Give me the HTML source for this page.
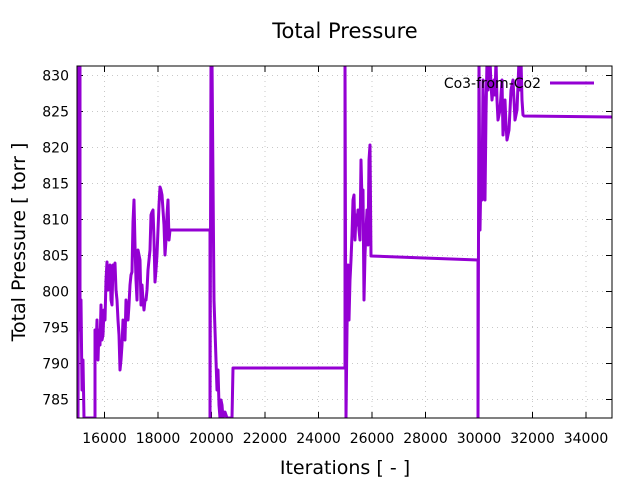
<!DOCTYPE html>
<html><head><meta charset="utf-8"><style>
html,body{margin:0;padding:0;background:#fff;}
svg text{font-family:"DejaVu Sans","Liberation Sans",sans-serif;fill:#000;}
</style></head><body>
<svg width="640" height="480" viewBox="0 0 640 480" xmlns="http://www.w3.org/2000/svg">
<rect width="640" height="480" fill="#fff"/>
<text x="345" y="38" font-size="21" text-anchor="middle">Total Pressure</text>
<g stroke="#c8c8c8" stroke-width="1" stroke-dasharray="1,4">
<line x1="77" y1="75.5" x2="612" y2="75.5"/>
<line x1="77" y1="111.5" x2="612" y2="111.5"/>
<line x1="77" y1="147.5" x2="612" y2="147.5"/>
<line x1="77" y1="183.5" x2="612" y2="183.5"/>
<line x1="77" y1="219.5" x2="612" y2="219.5"/>
<line x1="77" y1="255.5" x2="612" y2="255.5"/>
<line x1="77" y1="291.5" x2="612" y2="291.5"/>
<line x1="77" y1="327.5" x2="612" y2="327.5"/>
<line x1="77" y1="363.5" x2="612" y2="363.5"/>
<line x1="77" y1="399.5" x2="612" y2="399.5"/>
<line x1="104.5" y1="66" x2="104.5" y2="418"/>
<line x1="158" y1="66" x2="158" y2="418"/>
<line x1="211.5" y1="66" x2="211.5" y2="418"/>
<line x1="265" y1="66" x2="265" y2="418"/>
<line x1="318.5" y1="66" x2="318.5" y2="418"/>
<line x1="372" y1="66" x2="372" y2="418"/>
<line x1="425.5" y1="66" x2="425.5" y2="418"/>
<line x1="479" y1="66" x2="479" y2="418"/>
<line x1="532.5" y1="66" x2="532.5" y2="418"/>
<line x1="586" y1="66" x2="586" y2="418"/>
</g>
<g stroke="#000" stroke-width="1">
<line x1="77" y1="75.5" x2="83" y2="75.5"/><line x1="612" y1="75.5" x2="606" y2="75.5"/>
<line x1="77" y1="111.5" x2="83" y2="111.5"/><line x1="612" y1="111.5" x2="606" y2="111.5"/>
<line x1="77" y1="147.5" x2="83" y2="147.5"/><line x1="612" y1="147.5" x2="606" y2="147.5"/>
<line x1="77" y1="183.5" x2="83" y2="183.5"/><line x1="612" y1="183.5" x2="606" y2="183.5"/>
<line x1="77" y1="219.5" x2="83" y2="219.5"/><line x1="612" y1="219.5" x2="606" y2="219.5"/>
<line x1="77" y1="255.5" x2="83" y2="255.5"/><line x1="612" y1="255.5" x2="606" y2="255.5"/>
<line x1="77" y1="291.5" x2="83" y2="291.5"/><line x1="612" y1="291.5" x2="606" y2="291.5"/>
<line x1="77" y1="327.5" x2="83" y2="327.5"/><line x1="612" y1="327.5" x2="606" y2="327.5"/>
<line x1="77" y1="363.5" x2="83" y2="363.5"/><line x1="612" y1="363.5" x2="606" y2="363.5"/>
<line x1="77" y1="399.5" x2="83" y2="399.5"/><line x1="612" y1="399.5" x2="606" y2="399.5"/>
<line x1="104.5" y1="418" x2="104.5" y2="412"/><line x1="104.5" y1="66" x2="104.5" y2="72"/>
<line x1="158" y1="418" x2="158" y2="412"/><line x1="158" y1="66" x2="158" y2="72"/>
<line x1="211.5" y1="418" x2="211.5" y2="412"/><line x1="211.5" y1="66" x2="211.5" y2="72"/>
<line x1="265" y1="418" x2="265" y2="412"/><line x1="265" y1="66" x2="265" y2="72"/>
<line x1="318.5" y1="418" x2="318.5" y2="412"/><line x1="318.5" y1="66" x2="318.5" y2="72"/>
<line x1="372" y1="418" x2="372" y2="412"/><line x1="372" y1="66" x2="372" y2="72"/>
<line x1="425.5" y1="418" x2="425.5" y2="412"/><line x1="425.5" y1="66" x2="425.5" y2="72"/>
<line x1="479" y1="418" x2="479" y2="412"/><line x1="479" y1="66" x2="479" y2="72"/>
<line x1="532.5" y1="418" x2="532.5" y2="412"/><line x1="532.5" y1="66" x2="532.5" y2="72"/>
<line x1="586" y1="418" x2="586" y2="412"/><line x1="586" y1="66" x2="586" y2="72"/>
</g>
<g font-size="14" text-anchor="end">
<text x="69" y="80.5">830</text><text x="69" y="116.5">825</text><text x="69" y="152.5">820</text>
<text x="69" y="188.5">815</text><text x="69" y="224.5">810</text><text x="69" y="260.5">805</text>
<text x="69" y="296.5">800</text><text x="69" y="332.5">795</text><text x="69" y="368.5">790</text>
<text x="69" y="404.5">785</text>
</g>
<g font-size="14" text-anchor="middle">
<text x="104.5" y="443">16000</text><text x="158" y="443">18000</text><text x="211.5" y="443">20000</text>
<text x="265" y="443">22000</text><text x="318.5" y="443">24000</text><text x="372" y="443">26000</text>
<text x="425.5" y="443">28000</text><text x="479" y="443">30000</text><text x="532.5" y="443">32000</text>
<text x="586" y="443">34000</text>
</g>
<text x="345" y="474" font-size="19" text-anchor="middle">Iterations [ - ]</text>
<text transform="translate(25,242) rotate(-90)" font-size="19" text-anchor="middle">Total Pressure [ torr ]</text>
<svg x="77" y="66" width="535" height="352" viewBox="77 66 535 352" overflow="hidden">
<polyline fill="none" stroke="#9400d3" stroke-width="3" stroke-linejoin="round" points="
77,140 77,60 78,418 79,60 80,60 80,330 81,300 82,390 83,360 84,418 85,418
95,418 95,330 96,350 97,320 98,360 99,330 100,345 101,305 102,340 103,335 104,310 105,320 106,280 107,262 108,290 109,270 110,265 111,300 112,305 113,265 114,270 115,263 116,290 117,300 118,320 119,335 120,370 121,360 122,345 123,320 124,330 125,340 126,300 127,310 128,320 129,305 130,285 131,275 132,272 133,222 134,200 135,245 136,280 137,300 138,250 139,255 140,260 141,305 142,285 143,300 144,310 145,300 146,300 147,290 148,270 149,260 150,250 151,215 152,212 153,210 154,240 155,282 156,270 157,255 158,230 159,205 160,187 161,190 162,195 163,210 164,225 165,255 166,240 167,215 168,200 169,240 170,230 171,230 210,230
210,418 211,60 212,60 213,180 214,300 215,330 216,360 217,390 218,370 219,405 220,418 221,400 222,405 223,418 225,412 227,418 232,418 233,368 345,368 345,60 346,418 347,330 348,265 349,320 350,280 351,260 352,235 353,200 354,195 355,240 356,215 357,225 358,210 359,230 360,240 361,160 362,200 363,190 364,300 365,255 366,230 367,210 368,245 369,160 370,145 371,256 478,260 478,418 479,60 480,230 481,170 482,200 483,80 484,130 485,200 486,115 487,60 488,90 489,75 490,60 491,85 492,100 493,90 494,80 495,95 496,60 497,100 498,120 499,115 500,110 501,95 502,80 503,135 504,120 505,100 506,125 507,140 508,135 509,130 510,110 511,90 512,85 513,80 514,100 515,120 516,115 517,110 518,85 519,60 520,90 521,60 522,100 523,115 524,116 612,117"/>
</svg>
<rect x="77" y="66" width="535" height="352" fill="none" stroke="#000" stroke-width="1"/>
<text x="541" y="88" font-size="14" text-anchor="end">Co3-from-Co2</text>
<line x1="550" y1="83" x2="594" y2="83" stroke="#9400d3" stroke-width="3"/>
</svg>
</body></html>
